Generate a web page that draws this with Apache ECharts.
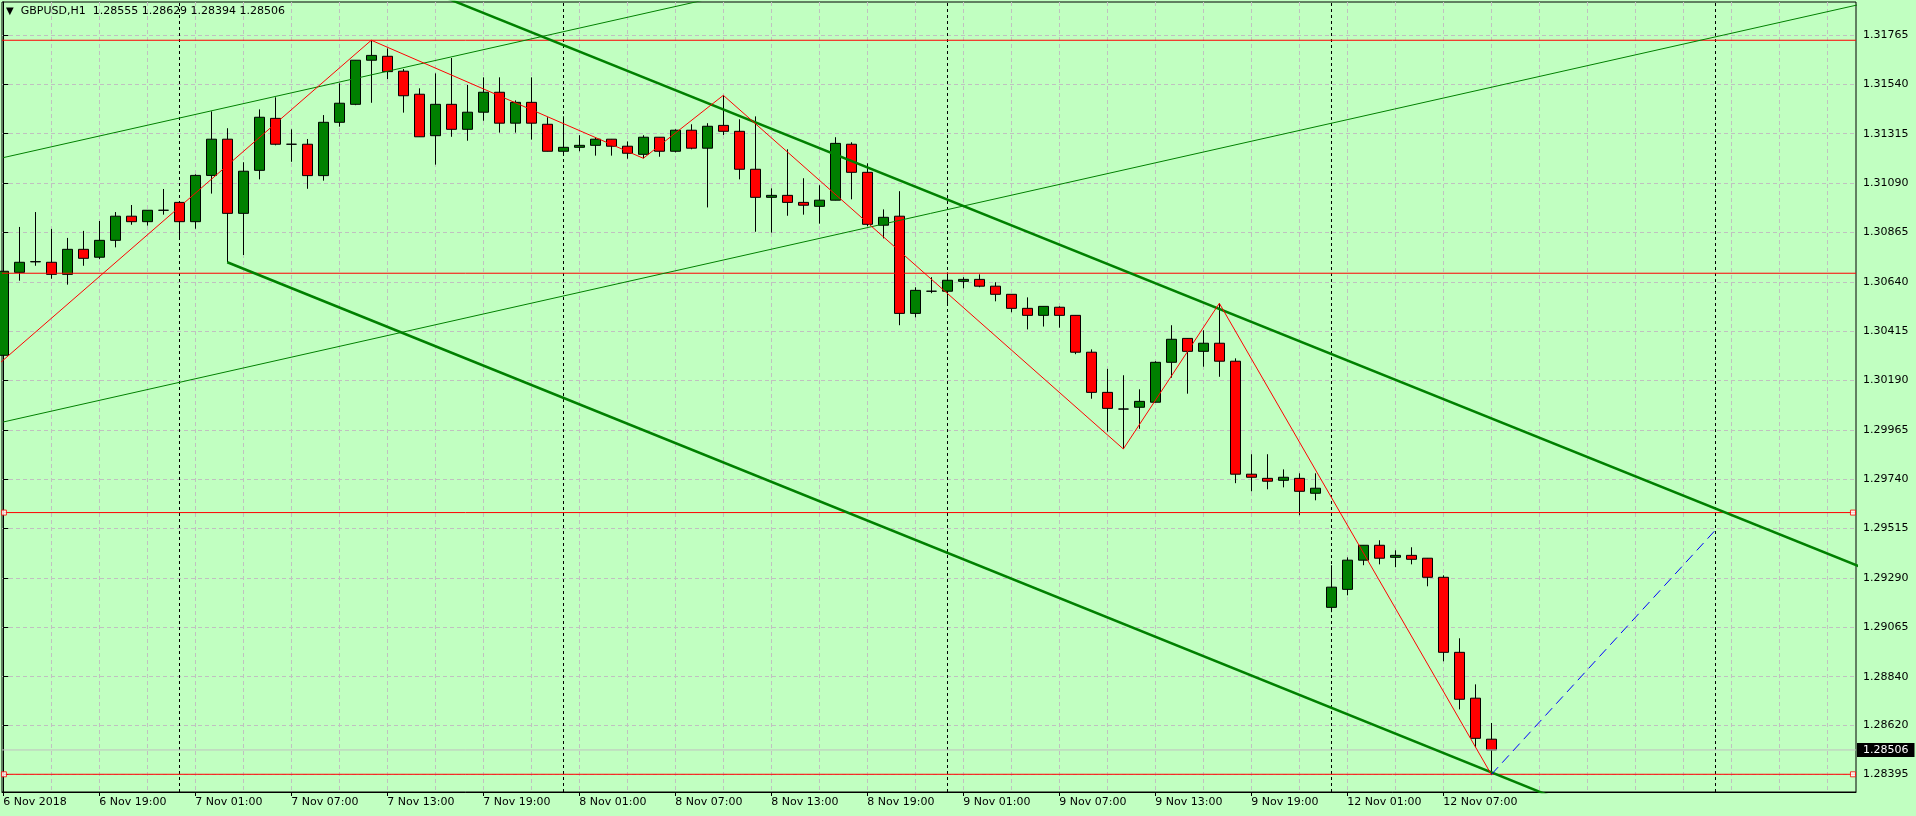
<!DOCTYPE html>
<html>
<head>
<meta charset="utf-8">
<script src="https://cdn.jsdelivr.net/npm/echarts@6/dist/echarts.min.js"></script>
<style>
html,body{margin:0;padding:0;background:#c1ffc1;overflow:hidden;}
#chart{width:1916px;height:816px;}
</style>
</head>
<body>
<div id="chart"></div>
<script>
// ---------- data ----------
const symbolName = 'GBPUSD,H1';
const headerValues = ['1.28555', '1.28629', '1.28394', '1.28506'];

// H1 bars, index 0 = 6 Nov 13:00 ... index 93 = 12 Nov 10:00 ; [open, high, low, close]
const candles = [
  [1.30305,1.30712,1.30297,1.30688],[1.30683,1.30890,1.30645,1.30729],[1.30731,1.30958,1.30713,1.30732],
  [1.30729,1.30881,1.30654,1.30674],[1.30674,1.30840,1.30627,1.30788],[1.30788,1.30872,1.30713,1.30747],
  [1.30752,1.30917,1.30743,1.30829],[1.30829,1.30958,1.30797,1.30939],[1.30939,1.30990,1.30900,1.30914],
  [1.30914,1.30967,1.30896,1.30966],[1.30966,1.31063,1.30946,1.30966],[1.31002,1.31003,1.30837,1.30914],
  [1.30914,1.31130,1.30882,1.31125],[1.31125,1.31417,1.31042,1.31290],[1.31290,1.31340,1.30729,1.30952],
  [1.30952,1.31185,1.30762,1.31144],[1.31148,1.31426,1.31107,1.31390],[1.31385,1.31481,1.31262,1.31267],
  [1.31267,1.31335,1.31187,1.31267],[1.31267,1.31291,1.31064,1.31124],[1.31124,1.31400,1.31101,1.31367],
  [1.31367,1.31545,1.31347,1.31454],[1.31449,1.31651,1.31445,1.31650],[1.31650,1.31741,1.31456,1.31672],
  [1.31668,1.31704,1.31564,1.31598],[1.31600,1.31610,1.31411,1.31488],[1.31495,1.31522,1.31300,1.31301],
  [1.31306,1.31590,1.31174,1.31449],[1.31449,1.31660,1.31301,1.31335],[1.31335,1.31537,1.31283,1.31413],
  [1.31413,1.31572,1.31374,1.31504],[1.31504,1.31572,1.31320,1.31363],[1.31363,1.31467,1.31320,1.31458],
  [1.31458,1.31572,1.31288,1.31363],[1.31358,1.31390,1.31234,1.31235],[1.31235,1.31394,1.31221,1.31253],
  [1.31253,1.31308,1.31235,1.31262],[1.31262,1.31299,1.31215,1.31290],[1.31290,1.31291,1.31215,1.31258],
  [1.31258,1.31280,1.31201,1.31226],[1.31221,1.31308,1.31203,1.31299],[1.31299,1.31300,1.31210,1.31235],
  [1.31235,1.31335,1.31230,1.31331],[1.31331,1.31358,1.31244,1.31249],[1.31249,1.31363,1.30979,1.31349],
  [1.31353,1.31490,1.31309,1.31326],[1.31326,1.31381,1.31107,1.31153],[1.31153,1.31394,1.30868,1.31025],
  [1.31025,1.31066,1.30864,1.31034],[1.31034,1.31244,1.30941,1.31002],[1.31002,1.31112,1.30946,1.30989],
  [1.30984,1.31080,1.30905,1.31012],[1.31012,1.31299,1.31011,1.31271],[1.31267,1.31276,1.31016,1.31139],
  [1.31139,1.31180,1.30893,1.30902],[1.30898,1.30970,1.30838,1.30934],[1.30939,1.31053,1.30442,1.30496],
  [1.30496,1.30615,1.30478,1.30601],[1.30597,1.30661,1.30588,1.30597],[1.30597,1.30683,1.30537,1.30647],
  [1.30642,1.30661,1.30610,1.30651],[1.30651,1.30674,1.30615,1.30620],[1.30620,1.30638,1.30551,1.30583],
  [1.30583,1.30584,1.30501,1.30519],[1.30519,1.30569,1.30423,1.30487],[1.30487,1.30529,1.30436,1.30528],
  [1.30524,1.30528,1.30431,1.30487],[1.30487,1.30488,1.30310,1.30319],[1.30319,1.30332,1.30107,1.30136],
  [1.30136,1.30243,1.29957,1.30063],[1.30060,1.30214,1.29878,1.30060],[1.30068,1.30150,1.29970,1.30095],
  [1.30091,1.30278,1.30090,1.30273],[1.30273,1.30442,1.30203,1.30378],[1.30382,1.30383,1.30130,1.30323],
  [1.30323,1.30419,1.30253,1.30360],[1.30360,1.30542,1.30207,1.30278],[1.30278,1.30291,1.29722,1.29763],
  [1.29763,1.29854,1.29685,1.29749],[1.29744,1.29854,1.29694,1.29731],[1.29735,1.29785,1.29703,1.29749],
  [1.29744,1.29767,1.29576,1.29685],[1.29676,1.29767,1.29644,1.29699],[1.29156,1.29348,1.29134,1.29248],
  [1.29238,1.29384,1.29211,1.29371],[1.29371,1.29440,1.29348,1.29439],[1.29439,1.29462,1.29352,1.29380],
  [1.29384,1.29416,1.29339,1.29393],[1.29393,1.29430,1.29352,1.29375],[1.29380,1.29381,1.29252,1.29293],
  [1.29293,1.29302,1.28910,1.28951],[1.28951,1.29015,1.28691,1.28737],[1.28742,1.28805,1.28518,1.28559],
  [1.28555,1.28629,1.28394,1.28506]
];

// time axis labels (bar index -> label)
const xLabelBars = [0, 6, 12, 18, 24, 30, 36, 42, 48, 54, 60, 66, 72, 78, 84, 90];
const xLabels = ['6 Nov 2018', '6 Nov 19:00', '7 Nov 01:00', '7 Nov 07:00', '7 Nov 13:00', '7 Nov 19:00',
  '8 Nov 01:00', '8 Nov 07:00', '8 Nov 13:00', '8 Nov 19:00', '9 Nov 01:00', '9 Nov 07:00',
  '9 Nov 13:00', '9 Nov 19:00', '12 Nov 01:00', '12 Nov 07:00'];
// price axis tick labels
const yTicks = [1.28395, 1.28620, 1.28840, 1.29065, 1.29290, 1.29515, 1.29740, 1.29965,
  1.30190, 1.30415, 1.30640, 1.30865, 1.31090, 1.31315, 1.31540, 1.31765];
// day separators (bar index of 00:00)
const daySeparators = [11, 35, 59, 83, 107];
// horizontal levels
const levelsPlain = [1.31741, 1.30679];
const levelsMarked = [1.29588, 1.28395];
const bidPrice = 1.28506;
// zigzag pivots [bar, price]
const zigzag = [[-3, 1.30093], [23, 1.31741], [40, 1.31203], [45, 1.31490], [70, 1.29878], [76, 1.30542], [93, 1.28394]];
// trend / channel lines [bar, price]
const thinUpper = [[0, 1.31206], [60, 1.32190]];
const thinLower = [[0, 1.30001], [116, 1.31904]];
const thickUpper = [[14, 1.32335], [116, 1.29343]];
const thickLower = [[14, 1.30729], [116, 1.27727]];
const projection = [[93, 1.28394], [107, 1.29508]];

// ---------- chart ----------
const FONT = 'DejaVu Sans';
const BG = '#c1ffc1';
const X_MIN = -0.081, X_MAX = 115.79;
const Y_MIN = 1.283143, Y_MAX = 1.319154;
const gridBars = [];
for (let k = 0; k <= 114; k += 3) gridBars.push(k);

const candleData = candles.map((c, i) => [i, c[0], c[3], c[2], c[1]]);
const gridLine = { show: true, lineStyle: { color: '#c0c0c0', width: 1, type: [4, 3] } };

function lineSeries(pts, color, width, type, z) {
  return {
    type: 'line', data: pts, showSymbol: false, symbol: 'none', silent: true,
    lineStyle: { color: color, width: width, type: type || 'solid' },
    z: z || 4, clip: true, animation: false
  };
}

const levelSeries = [];
levelsPlain.concat(levelsMarked).forEach(v => {
  levelSeries.push(lineSeries([[X_MIN, v], [X_MAX, v]], '#ff0000', 1, 'solid', 3));
});
levelSeries.push(lineSeries([[X_MIN, bidPrice], [X_MAX, bidPrice]], '#c0c0c0', 1, 'solid', 3));
const handlePts = [];
levelsMarked.forEach(v => { handlePts.push([X_MIN + 0.12, v]); handlePts.push([X_MAX - 0.19, v]); });

const chart = echarts.init(document.getElementById('chart'), null, { renderer: 'canvas' });
chart.setOption({
  backgroundColor: BG,
  animation: false,
  title: {
    text: '{t|▼}  ' + symbolName + '  ' + headerValues.join(' '),
    left: 6, top: 6, padding: 0,
    textStyle: {
      fontFamily: FONT, fontSize: 11, fontWeight: 'normal', color: '#000',
      rich: { t: { fontFamily: FONT, fontSize: 10, color: '#000' } }
    }
  },
  grid: {
    left: 2, right: 60, top: 2, bottom: 24, show: true,
    borderColor: '#000', borderWidth: 1, backgroundColor: 'transparent',
    outerBoundsMode: 'none', containLabel: false
  },
  xAxis: [{
    type: 'value', position: 'bottom', min: X_MIN, max: X_MAX, scale: true,
    axisLine: { show: true, onZero: false, lineStyle: { color: '#000', width: 1 } },
    axisTick: { show: false, customValues: gridBars },
    axisLabel: {
      customValues: xLabelBars, align: 'left', margin: 5,
      fontFamily: FONT, fontSize: 11, color: '#000',
      formatter: v => { const i = xLabelBars.indexOf(Math.round(v)); return i >= 0 ? xLabels[i] : ''; }
    },
    splitLine: gridLine
  }, {
    type: 'value', position: 'bottom', min: X_MIN, max: X_MAX, scale: true,
    axisLine: { show: false, onZero: false },
    axisTick: { show: true, customValues: xLabelBars, length: 4, lineStyle: { color: '#000' } },
    axisLabel: { show: false },
    splitLine: { show: false }
  }],
  yAxis: [{
    type: 'value', position: 'right', min: Y_MIN, max: Y_MAX, scale: true,
    axisLine: { show: true, lineStyle: { color: '#000', width: 1 } },
    axisTick: { show: true, customValues: yTicks, length: 5, inside: false, lineStyle: { color: '#000' } },
    axisLabel: {
      customValues: yTicks, margin: 7, fontFamily: FONT, fontSize: 11, color: '#000',
      formatter: v => v.toFixed(5)
    },
    splitLine: gridLine
  }, {
    // current bid price box
    type: 'value', position: 'right', min: Y_MIN, max: Y_MAX, scale: true,
    axisLine: { show: false }, splitLine: { show: false },
    axisTick: { show: false, customValues: [bidPrice] },
    axisLabel: {
      customValues: [bidPrice], margin: 1, fontFamily: FONT, fontSize: 11, color: '#ffffff',
      backgroundColor: '#000000', padding: [2, 6, 1, 6],
      formatter: v => v.toFixed(5)
    }
  }],
  series: [
    {
      // period separators (behind candles)
      type: 'line', data: [], silent: true, z: 1,
      markLine: {
        z: 1, silent: true, symbol: 'none', animation: false,
        label: { show: false },
        lineStyle: { color: '#000', width: 1, type: [3, 3] },
        data: daySeparators.map(k => ({ xAxis: k }))
      }
    },
    {
      type: 'candlestick', name: symbolName, data: candleData,
      encode: { x: 0, y: [1, 2, 3, 4] },
      barWidth: 10, z: 2, animation: false, silent: true,
      itemStyle: {
        color: '#008000', color0: '#ff0000',
        borderColor: '#000000', borderColor0: '#000000', borderColorDoji: '#000000',
        borderWidth: 1
      }
    },
    ...levelSeries,
    {
      type: 'scatter', data: handlePts, symbol: 'rect', symbolSize: 5, silent: true, z: 5,
      clip: false, animation: false,
      itemStyle: { color: '#ffffff', borderColor: '#ff0000', borderWidth: 1 }
    },
    lineSeries(thinUpper, '#008000', 1),
    lineSeries(thinLower, '#008000', 1),
    lineSeries(thickUpper, '#008000', 2.5),
    lineSeries(thickLower, '#008000', 2.5),
    lineSeries(zigzag, '#ff0000', 1),
    lineSeries(projection, '#0000ff', 1, [10, 6])
  ]
});
</script>
</body>
</html>
